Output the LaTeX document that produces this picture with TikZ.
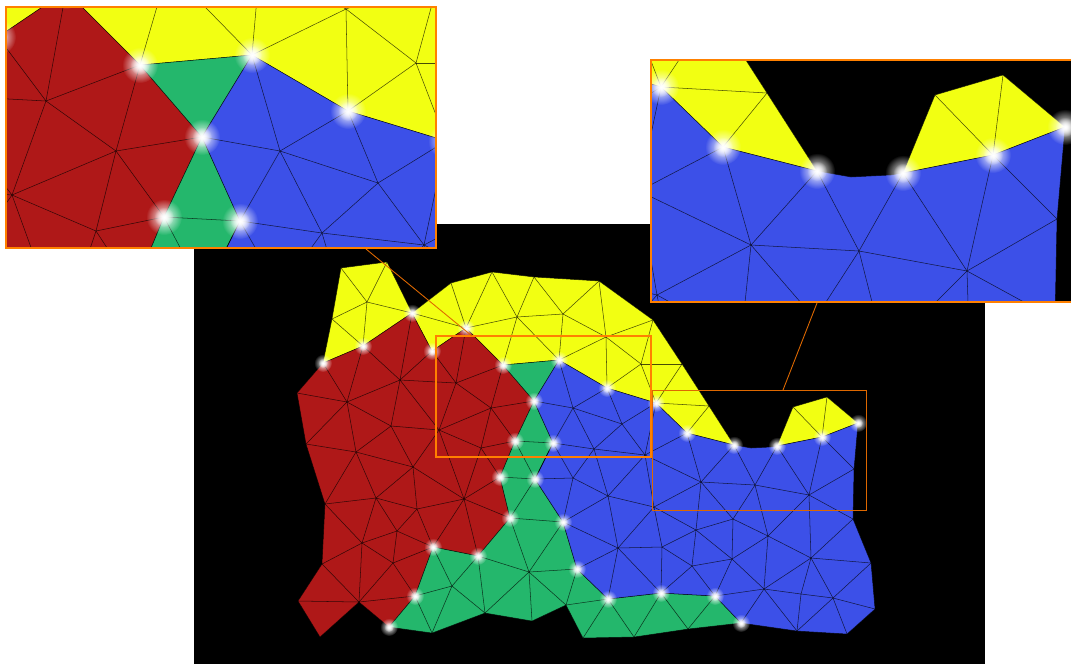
\documentclass[tikz,border=0pt]{standalone}
\usetikzlibrary{fadings}

\definecolor{meshred}{RGB}{175,24,24}
\definecolor{meshgreen}{RGB}{36,183,108}
\definecolor{meshblue}{RGB}{60,80,232}
\definecolor{meshyellow}{RGB}{242,255,18}
\definecolor{zoomframe}{RGB}{255,128,0}
\definecolor{zoomthin}{RGB}{222,104,0}

\tikzfading[name=glowfade, inner color=transparent!0, outer color=transparent!100]

\tikzset{
	meshline/.style={draw=black, draw opacity=0.7, line width=0.3pt},
	framebox/.style={draw=zoomframe, line width=0.9pt},
	thinbox/.style={draw=zoomthin, line width=0.5pt},
	glow/.style={fill=white, path fading=glowfade}
}

\newcommand{\meshlayer}{
	% yellow
	\coordinate (Ya) at (341,268); \coordinate (Yb) at (387,262); \coordinate (Yc) at (367,302);
	\coordinate (Yd) at (332,319); \coordinate (Ye) at (451,283); \coordinate (Yf) at (492,272);
	\coordinate (Yg) at (534,277); \coordinate (Yh) at (599,281); \coordinate (Yi) at (653,320);
	\coordinate (Yj) at (517,317); \coordinate (Yk) at (563,314); \coordinate (Yl) at (606,337);
	\coordinate (Ym) at (641,364); \coordinate (Yn) at (682,364); \coordinate (Yo) at (709,406);
	\coordinate (Yp) at (793,407); \coordinate (Yq) at (827,397);
	% glowing points
	\coordinate (Pa) at (323,363); \coordinate (Pb) at (363,346); \coordinate (Pc) at (412,313);
	\coordinate (Pd) at (432,351); \coordinate (Pe) at (466,328); \coordinate (Pf) at (503,365);
	\coordinate (Pg) at (559,360); \coordinate (Ph) at (607,388); \coordinate (Pi) at (656,403);
	\coordinate (Pj) at (687,433); \coordinate (Pk) at (734,445); \coordinate (Pl) at (777,446);
	\coordinate (Pm) at (822,437); \coordinate (Pn) at (858,423); \coordinate (Po) at (534,401);
	\coordinate (Pp) at (515,441); \coordinate (Pq) at (553,443); \coordinate (Pr) at (500,477);
	\coordinate (Ps) at (535,479); \coordinate (Pt) at (510,518); \coordinate (Pu) at (563,522);
	\coordinate (Pv) at (577,569); \coordinate (Pw) at (478,556); \coordinate (Px) at (433,547);
	\coordinate (Py) at (415,596); \coordinate (Pz) at (389,627); \coordinate (Qa) at (608,599);
	\coordinate (Qb) at (661,593); \coordinate (Qc) at (715,596); \coordinate (Qd) at (741,623);
	% red
	\coordinate (Ra) at (297,393); \coordinate (Rb) at (306,444); \coordinate (Rc) at (347,402);
	\coordinate (Rd) at (400,380); \coordinate (Re) at (456,383); \coordinate (Rf) at (391,426);
	\coordinate (Rg) at (439,430); \coordinate (Rh) at (491,408); \coordinate (Ri) at (356,452);
	\coordinate (Rj) at (481,448); \coordinate (Rk) at (413,467); \coordinate (Rl) at (464,499);
	\coordinate (Rm) at (376,498); \coordinate (Rn) at (325,504); \coordinate (Ro) at (417,509);
	\coordinate (Rp) at (397,531); \coordinate (Rq) at (362,543); \coordinate (Rr) at (393,563);
	\coordinate (Rs) at (322,564); \coordinate (Rt) at (298,601); \coordinate (Ru) at (320,637);
	\coordinate (Rv) at (359,602);
	% green
	\coordinate (Ga) at (529,572); \coordinate (Gb) at (452,586); \coordinate (Gc) at (432,633);
	\coordinate (Gd) at (485,613); \coordinate (Ge) at (532,621); \coordinate (Gf) at (566,605);
	\coordinate (Gg) at (583,638); \coordinate (Gh) at (634,637); \coordinate (Gi) at (688,629);
	% blue
	\coordinate (Ba) at (573,408); \coordinate (Bb) at (622,424); \coordinate (Bc) at (594,449);
	\coordinate (Bd) at (645,455); \coordinate (Be) at (573,478); \coordinate (Bf) at (608,496);
	\coordinate (Bg) at (654,507); \coordinate (Bh) at (701,482); \coordinate (Bi) at (755,485);
	\coordinate (Bj) at (809,495); \coordinate (Bk) at (854,469); \coordinate (Bl) at (853,519);
	\coordinate (Bm) at (871,563); \coordinate (Bn) at (875,609); \coordinate (Bo) at (847,634);
	\coordinate (Bp) at (797,631); \coordinate (Bq) at (733,519); \coordinate (Br) at (696,530);
	\coordinate (Bs) at (768,536); \coordinate (Bt) at (811,558); \coordinate (Bu) at (732,559);
	\coordinate (Bv) at (662,547); \coordinate (Bw) at (618,548); \coordinate (Bx) at (692,566);
	\coordinate (By) at (764,589); \coordinate (Bz) at (801,594); \coordinate (Ca) at (833,598);
	\coordinate (Cb) at (751,448); \coordinate (Cc) at (771,447);

	\path[meshline, fill=meshyellow] (Pa)--(Yd)--(Ya)--(Yb)--(Pc)--(Pb)--cycle;
	\path[meshline, fill=meshyellow] (Pc)--(Ye)--(Yf)--(Yg)--(Yh)--(Yi)--(Yn)--(Yo)--(Pk)--(Pj)--(Pi)--(Ph)--(Pg)--(Pf)--(Pe)--(Pd)--cycle;
	\path[meshline, fill=meshyellow] (Pl)--(Yp)--(Yq)--(Pn)--(Pm)--cycle;
	\path[meshline, fill=meshred] (Pa)--(Pb)--(Pc)--(Pd)--(Pe)--(Pf)--(Po)--(Pp)--(Pr)--(Pt)--(Pw)--(Px)--(Py)--(Pz)--(Rv)--(Ru)--(Rt)--(Rs)--(Rn)--(Rb)--(Ra)--cycle;
	\path[meshline, fill=meshgreen] (Pf)--(Pg)--(Po)--cycle;
	\path[meshline, fill=meshgreen] (Po)--(Pq)--(Ps)--(Pu)--(Pv)--(Qa)--(Qb)--(Qc)--(Qd)--(Gi)--(Gh)--(Gg)--(Gf)--(Ge)--(Gd)--(Gc)--(Pz)--(Py)--(Px)--(Pw)--(Pt)--(Pr)--(Pp)--cycle;
	\path[meshline, fill=meshblue] (Pg)--(Ph)--(Pi)--(Pj)--(Pk)--(Cb)--(Cc)--(Pl)--(Pm)--(Pn)--(Bk)--(Bl)--(Bm)--(Bn)--(Bo)--(Bp)--(Qd)--(Qc)--(Qb)--(Qa)--(Pv)--(Pu)--(Ps)--(Pq)--(Po)--cycle;

	\foreach \a/\b in {Ya/Yc,Yb/Yc,Yd/Yc,Yc/Pb,Yc/Pc,Yd/Pb,Pc/Pe,Ye/Pe,Yf/Pe,Yf/Yj,Yg/Yj,Yg/Yk,Yj/Yk,Pe/Yj,Yj/Pf,Yj/Pg,Yk/Pg,Yk/Yl,Yk/Yh,Yh/Yl,Yi/Yl,Pg/Yl,Yl/Ph,Yl/Ym,Yi/Ym,Ym/Ph,Ym/Pi,Ym/Yn,Yn/Pi,Pi/Yo,Yo/Pj,Yp/Pm,Yq/Pm}
		\draw[meshline] (\a)--(\b);
	\foreach \a/\b in {Pa/Rc,Pb/Rc,Pb/Rd,Pc/Rd,Pd/Rd,Pd/Re,Pe/Re,Pf/Re,Pf/Rh,Rd/Re,Re/Rh,Re/Rg,Rd/Rc,Rd/Rf,Rd/Rg,Rc/Rf,Rc/Ra,Rc/Rb,Rc/Ri,Rf/Rg,Rf/Ri,Rf/Rk,Rg/Rh,Rg/Rj,Rg/Rk,Rg/Rl,Rh/Po,Rh/Rj,Rh/Pp,Rj/Pp,Rj/Rl,Rj/Pr,Rb/Ri,Ri/Rk,Ri/Rn,Ri/Rm,Rk/Rm,Rk/Ro,Rk/Rl,Rl/Pr,Rl/Pt,Rl/Pw,Rl/Px,Rl/Ro,Ro/Rm,Ro/Rp,Ro/Px,Rm/Rn,Rm/Rq,Rm/Rp,Rn/Rq,Rq/Rp,Rq/Rs,Rq/Rv,Rq/Rr,Rp/Rr,Rp/Px,Rr/Px,Rr/Py,Rr/Rv,Rv/Py,Rs/Rv,Rt/Rv}
		\draw[meshline] (\a)--(\b);
	\foreach \a/\b in {Pp/Pq,Pp/Ps,Pq/Ps,Pr/Ps,Ps/Pt,Pt/Pu,Pt/Ga,Pu/Ga,Pw/Ga,Pv/Ga,Ga/Gd,Ga/Ge,Ga/Gf,Px/Gb,Pw/Gb,Py/Gb,Gb/Gc,Gb/Gd,Py/Gc,Pw/Gd,Pv/Gf,Gf/Qa,Qa/Gg,Qa/Gh,Qb/Gh,Qb/Gi,Qc/Gi}
		\draw[meshline] (\a)--(\b);
	\foreach \a/\b in {Pg/Ba,Po/Ba,Ph/Ba,Ph/Bb,Pi/Bb,Ba/Bb,Ba/Pq,Ba/Bc,Bb/Bc,Bb/Bd,Pi/Bd,Pq/Bc,Bc/Bd,Pq/Be,Bc/Be,Bc/Bf,Bf/Bd,Bf/Bg,Bf/Bw,Bf/Pu,Bf/Be,Be/Ps,Be/Pu,Pj/Bd,Bd/Bh,Bd/Bg,Bg/Bh,Bg/Bv,Bg/Bw,Bg/Br,Bw/Bv,Bw/Pu,Bw/Pv,Bw/Qa,Bw/Qb,Bv/Qb,Bv/Bx,Bv/Br,Br/Bx,Br/Bh,Br/Bu,Br/Bq,Bh/Bq,Bh/Bi,Bh/Pj,Bh/Pk,Bi/Pk,Bi/Pl,Bi/Bq,Bi/Bs,Bi/Bj,Bj/Pl,Bj/Pm,Bj/Bk,Bj/Bl,Bj/Bs,Bj/Bt,Pm/Bk,Bq/Bs,Bq/Bu,Bs/Bu,Bs/By,Bs/Bt,Bu/Bx,Bu/Qc,Bu/By,Bx/Qb,Bx/Qc,Qc/By,By/Qd,By/Bp,By/Bz,By/Bt,Bz/Bp,Bz/Bt,Bz/Ca,Ca/Bp,Ca/Bo,Ca/Bn,Ca/Bm,Ca/Bt,Bt/Bm,Bt/Bl}
		\draw[meshline] (\a)--(\b);

	\foreach \p in {Pa,Pb,Pc,Pd,Pe,Pf,Pg,Ph,Pi,Pj,Pk,Pl,Pm,Pn,Po,Pp,Pq,Pr,Ps,Pt,Pu,Pv,Pw,Px,Py,Pz,Qa,Qb,Qc,Qd} {
		\fill[glow] (\p) circle (9);
		\fill[glow] (\p) circle (5);
	}
}

\begin{document}
\begin{tikzpicture}[x=0.02cm, y=-0.02cm]
	\useasboundingbox (0,0) rectangle (1071,664);
	\fill[white] (0,0) rectangle (1071,664);
	\fill[black] (194,224) rectangle (985,664);

	\meshlayer

	\coordinate (ZoomA) at (366,249);
	\coordinate (ZoomB) at (472,336);
	\coordinate (ZoomC) at (817,303);
	\coordinate (ZoomD) at (783,390);

	\draw[framebox, line width=0.7pt] (436,336) rectangle (651,457);
	\draw[thinbox] (652,390) rectangle (866,510);
	\draw[thinbox] (ZoomA)--(ZoomB);
	\draw[thinbox] (ZoomC)--(ZoomD);

	% first close-up
	\begin{scope}
		\clip (6,7) rectangle (436,248);
		\fill[black] (6,7) rectangle (436,248);
		\begin{scope}[shift={(-866,-665)}, scale=2]
			\meshlayer
		\end{scope}
	\end{scope}
	\draw[framebox] (6,7) rectangle (436,248);

	% second close-up, runs off the right side
	\begin{scope}
		\clip (651,60) rectangle (1071,302);
		\fill[black] (651,60) rectangle (1071,302);
		\begin{scope}[shift={(-651,-719)}, scale=2]
			\meshlayer
		\end{scope}
	\end{scope}
	\draw[framebox] (1071,60)--(651,60)--(651,302)--(1071,302);
\end{tikzpicture}
\end{document}
